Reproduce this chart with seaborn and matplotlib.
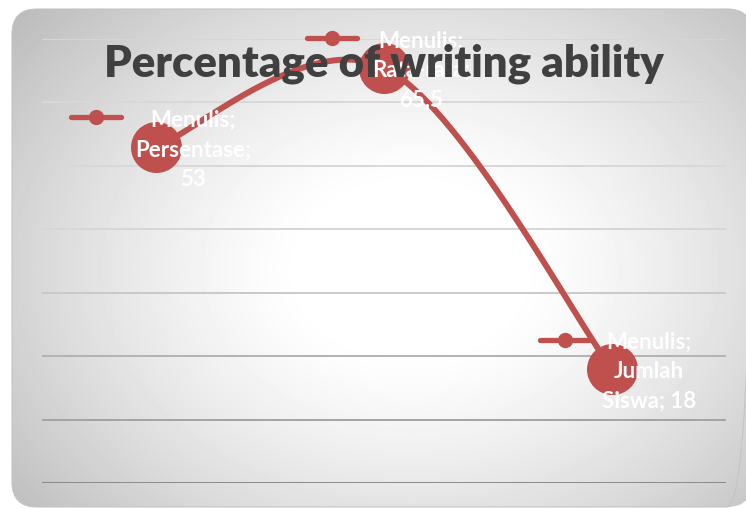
import numpy as np
import pandas as pd
import matplotlib
matplotlib.use("Agg")
import matplotlib.pyplot as plt
import seaborn as sns
from matplotlib.patches import FancyBboxPatch
from matplotlib.transforms import IdentityTransform, ScaledTranslation

# ---- data ----
series_name = "Menulis"
categories = ["Persentase", "Rata-rata", "Jumlah Siswa"]
values = [53, 65.5, 18]
value_labels = ["53", "65,5", "18"]
y_ticks = [0, 10, 20, 30, 40, 50, 60, 70]
title = "Percentage of writing ability"

# ---- style ----
RED = "#C0504D"
grid_colors = ["#8a8a8a", "#a3a3a3", "#b3b3b3", "#c9c9c9", "#d6d6d6", "#d8d8d8", "#d8d8d8", "#d6d6d6"]
label_offset = (37, -2)              # pixels, from each point
key_offsets = [(-60, 30), (-52, 30), (-47, 29)]

sns.set_theme(style="white")
plt.rcParams['font.family'] = ['Lato', 'DejaVu Sans']

W, H = 746, 510
fig = plt.figure(figsize=(W / 100, H / 100), dpi=100)
fig.patch.set_facecolor("white")

# background: rounded rectangle with radial gradient
bg = fig.add_axes([0, 0, 1, 1])
bg.set_xlim(0, W)
bg.set_ylim(H, 0)
bg.axis("off")
yy, xx = np.mgrid[0:H, 0:W]
r = np.sqrt(((xx - 410) / 420.0) ** 2 + ((yy - 270) / 320.0) ** 2)
g = 1 - 0.22 * np.clip((r - 0.25) / 0.85, 0, 1.25) ** 1.3
img = bg.imshow(g, cmap="gray", vmin=0, vmax=1, extent=(0, W, H, 0),
                interpolation="bilinear", zorder=0)
box = FancyBboxPatch((37, 35), 690, 448, boxstyle="round,pad=25",
                     transform=bg.transData, facecolor="none",
                     edgecolor="#c4c4c4", lw=0.8, zorder=1)
bg.add_patch(box)
img.set_clip_path(box)

# main axes
ax = fig.add_axes([42 / W, 26 / H, 684 / W, 444 / H])
ax.patch.set_alpha(0)
for s in ax.spines.values():
    s.set_visible(False)
for t, c in zip(y_ticks, grid_colors):
    ax.axhline(t, color=c, lw=1.4, zorder=1)

# smoothed line (Catmull-Rom style, like Excel's smoothed line)
xi = np.arange(len(categories), dtype=float)
P = np.column_stack([xi, np.array(values, dtype=float)])
Pp = np.vstack([P[0], P, P[-1]])
xs, ys = [], []
tt = np.linspace(0, 1, 60)
for i in range(len(P) - 1):
    p0, p1, p2, p3 = Pp[i], Pp[i + 1], Pp[i + 2], Pp[i + 3]
    c1 = p1 + (p2 - p0) / 6.0
    c2 = p2 - (p3 - p1) / 6.0
    b = ((1 - tt) ** 3)[:, None] * p1 + (3 * (1 - tt) ** 2 * tt)[:, None] * c1 \
        + (3 * (1 - tt) * tt ** 2)[:, None] * c2 + (tt ** 3)[:, None] * p2
    xs.extend(b[:, 0]); ys.extend(b[:, 1])
curve = pd.DataFrame({"x": xs, "y": ys})
sns.lineplot(data=curve, x="x", y="y", sort=False, estimator=None, color=RED,
             lw=4.3, ax=ax, zorder=2)

df = pd.DataFrame({"cat": categories, "x": xi, "val": values})
sns.scatterplot(data=df, x="x", y="val", s=1350, color=RED, edgecolor=RED,
                linewidth=0, ax=ax, zorder=3, legend=False, clip_on=False)
ax.set_xlabel("")
ax.set_ylabel("")
ax.set_xticks([])
ax.set_yticks([])
ax.set_xlim(-0.5, len(categories) - 0.5)
ax.set_ylim(y_ticks[0], y_ticks[-1])

# title (drawn over the data labels, as in the original)
ax.text(0.5, 0.947, title, transform=ax.transAxes, ha="center", va="center",
        fontsize=31.5, fontweight="heavy", color="#404040", zorder=7)

# data labels with legend keys
for (x, v, cat, lab), (kx, ky) in zip(zip(xi, values, categories, value_labels), key_offsets):
    tr = IdentityTransform() + ScaledTranslation(x, v, ax.transData)
    ax.plot([kx - 25, kx + 25], [ky, ky], color=RED, lw=3.8,
            solid_capstyle="round", transform=tr, zorder=4, clip_on=False)
    ax.plot([kx], [ky], marker="o", ms=10, color=RED, transform=tr, zorder=4,
            clip_on=False)
    text = f"{series_name};\n{cat};\n{lab}" if cat != "Jumlah Siswa" else f"{series_name};\nJumlah\nSiswa; {lab}"
    ax.text(label_offset[0], label_offset[1], text, transform=tr, ha="center",
            va="center", fontsize=16, fontweight="bold", color="white",
            linespacing=1.5, zorder=6)

fig.savefig("out.png", dpi=100)
